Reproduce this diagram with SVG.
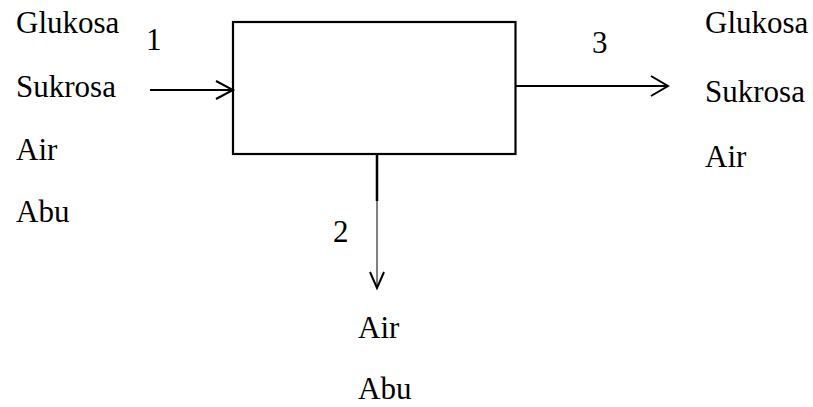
<svg xmlns="http://www.w3.org/2000/svg" width="813" height="407" viewBox="0 0 813 407">
<style>
text{font-family:'Liberation Serif','Times New Roman',serif;font-size:31px;fill:#000}
.ln{stroke:#000;fill:none}
</style>
<rect width="813" height="407" fill="#fff"/>
<g id="process"><rect x="233" y="22" width="282.5" height="132" class="ln" stroke-width="2.2"/></g>
<g id="connectors">
<line x1="150" y1="90" x2="233" y2="90" class="ln" stroke-width="2"/>
<polyline points="216,81 233,90 216,99" class="ln" stroke-width="2"/>
<line x1="515.5" y1="86" x2="668" y2="86" class="ln" stroke-width="2"/>
<polyline points="651,76 668,86 651,96" class="ln" stroke-width="2"/>
<line x1="377" y1="154" x2="377" y2="201" class="ln" stroke-width="2.5"/>
<line x1="377" y1="201" x2="377" y2="287" class="ln" stroke-width="1"/>
<polyline points="370,272 377,288 384,272" class="ln" stroke-width="2"/>
</g>
<g id="labels-in">
<text x="16" y="33">Glukosa</text>
<text x="16" y="97">Sukrosa</text>
<text x="16" y="160">Air</text>
<text x="16" y="222">Abu</text>
<text x="146" y="50">1</text>
</g>
<g id="labels-out">
<text x="705" y="33">Glukosa</text>
<text x="705" y="102">Sukrosa</text>
<text x="705" y="167">Air</text>
<text x="592" y="53">3</text>
</g>
<g id="labels-bottom">
<text x="333" y="242">2</text>
<text x="358" y="338">Air</text>
<text x="358" y="399">Abu</text>
</g>
</svg>
